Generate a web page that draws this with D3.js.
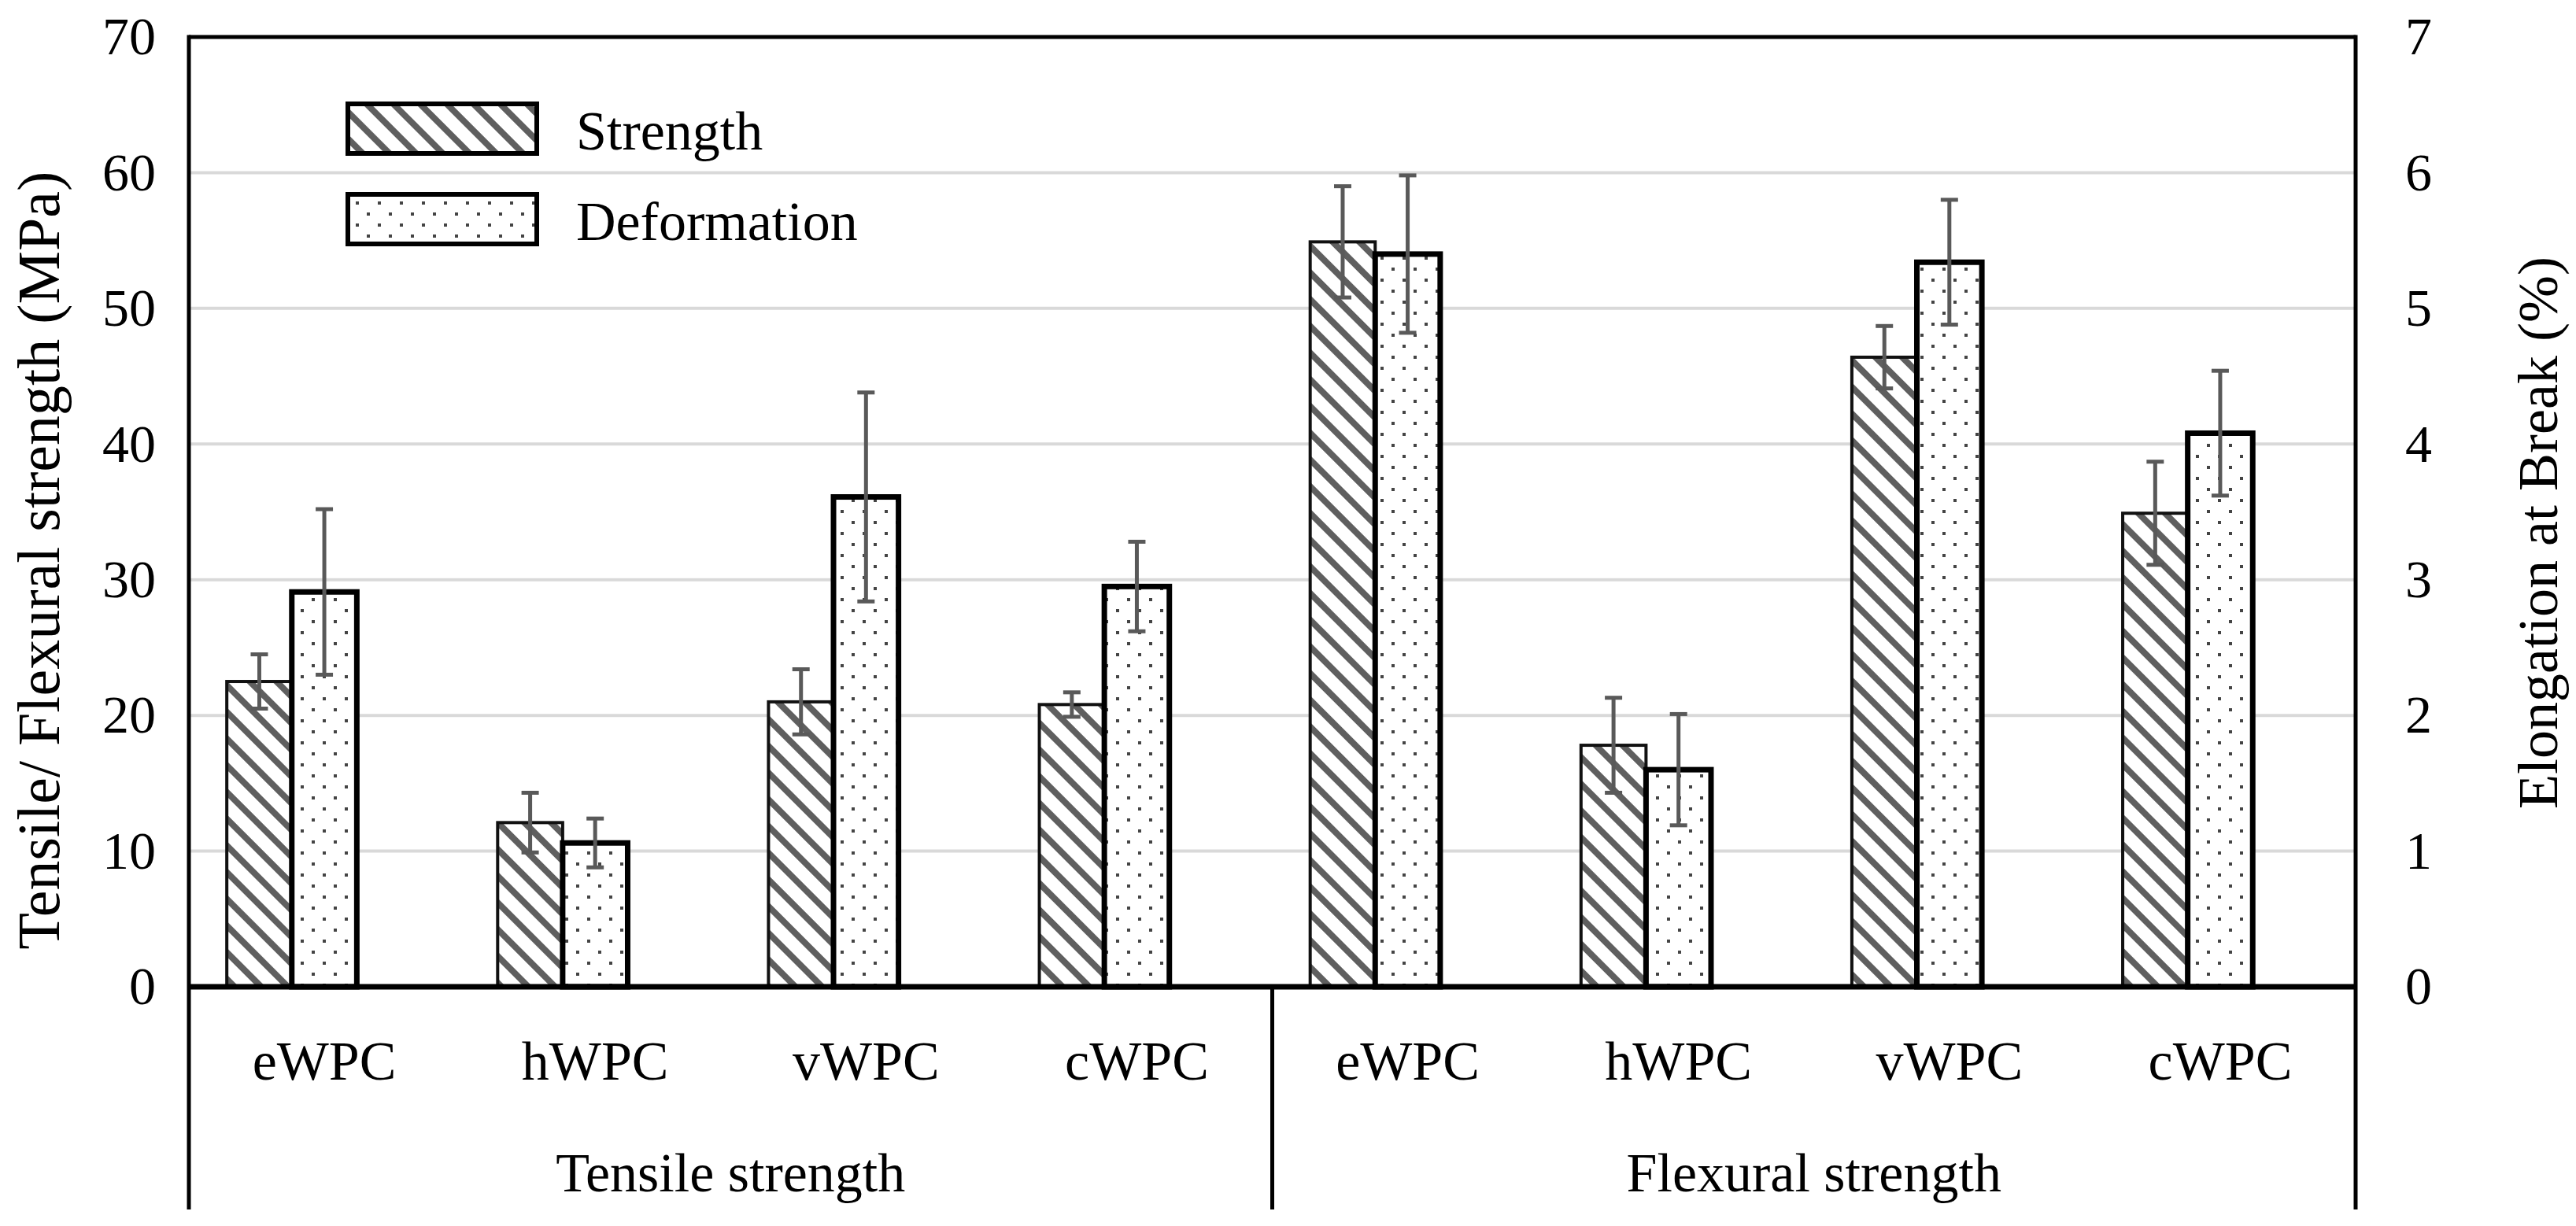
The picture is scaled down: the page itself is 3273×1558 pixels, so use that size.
<!DOCTYPE html>
<html>
<head>
<meta charset="utf-8">
<script src="https://cdn.jsdelivr.net/npm/d3@7"></script>
<style>
  body { margin: 0; background: #fff; }
  text { font-family: "Palatino Linotype", "Book Antiqua", "Liberation Serif", serif; fill: #000; }
</style>
</head>
<body>
<div id="chart"></div>
<script>
const categories = ['eWPC', 'hWPC', 'vWPC', 'cWPC', 'eWPC', 'hWPC', 'vWPC', 'cWPC'];
const groups = ['Tensile strength', 'Flexural strength'];
const seriesNames = ['Strength', 'Deformation'];

// strength in MPa (left axis), deformation = elongation at break in % (right axis)
const strength = [22.5, 12.1, 21.0, 20.8, 54.9, 17.8, 46.4, 34.9];
const strengthErr = [2.0, 2.2, 2.4, 0.9, 4.1, 3.5, 2.3, 3.8];
const deformation = [2.91, 1.06, 3.61, 2.95, 5.40, 1.60, 5.34, 4.08];
const deformationErr = [0.61, 0.18, 0.77, 0.33, 0.58, 0.41, 0.46, 0.46];

const leftTicks = [0, 10, 20, 30, 40, 50, 60, 70];
const rightTicks = [0, 1, 2, 3, 4, 5, 6, 7];

const width = 3273;
const height = 1558;
const margin = { top: 47, right: 280, bottom: 304, left: 240 };
const axisBottom = 1537;

const svg = d3.select('#chart')
  .append('svg')
  .attr('width', width)
  .attr('height', height)
  .attr('viewBox', [0, 0, width, height]);

svg.append('rect').attr('width', width).attr('height', height).attr('fill', '#fff');

// fill patterns
const defs = svg.append('defs');
const stripes = defs.append('pattern')
  .attr('id', 'stripes')
  .attr('patternUnits', 'userSpaceOnUse')
  .attr('width', 24).attr('height', 24)
  .attr('patternTransform', 'rotate(45)');
stripes.append('rect').attr('width', 24).attr('height', 24).attr('fill', '#fff');
stripes.append('rect').attr('x', 0).attr('y', 0).attr('width', 24).attr('height', 8).attr('fill', '#5f5f5f');

const dots = defs.append('pattern')
  .attr('id', 'dots')
  .attr('patternUnits', 'userSpaceOnUse')
  .attr('width', 28).attr('height', 28);
dots.append('rect').attr('width', 28).attr('height', 28).attr('fill', '#fff');
dots.append('rect').attr('x', 4).attr('y', 4).attr('width', 4).attr('height', 4).attr('fill', '#444');
dots.append('rect').attr('x', 18).attr('y', 18).attr('width', 4).attr('height', 4).attr('fill', '#444');

const x = d3.scaleBand()
  .domain(d3.range(categories.length))
  .range([margin.left, width - margin.right])
  .padding(0);

const x1 = d3.scaleBand()
  .domain(seriesNames)
  .range([x.bandwidth() * 0.14, x.bandwidth() * 0.62]);

const yLeft = d3.scaleLinear()
  .domain([0, 70])
  .range([height - margin.bottom, margin.top]);

const yRight = d3.scaleLinear()
  .domain([0, 7])
  .range([height - margin.bottom, margin.top]);

// gridlines
svg.append('g')
  .selectAll('line')
  .data(leftTicks.filter(d => d > 0 && d < 70))
  .join('line')
    .attr('x1', margin.left)
    .attr('x2', width - margin.right)
    .attr('y1', d => yLeft(d))
    .attr('y2', d => yLeft(d))
    .attr('stroke', '#d9d9d9')
    .attr('stroke-width', 4);

// strength bars (left axis)
svg.append('g')
  .selectAll('rect')
  .data(strength)
  .join('rect')
    .attr('x', (d, i) => x(i) + x1('Strength'))
    .attr('y', d => yLeft(d))
    .attr('width', x1.bandwidth())
    .attr('height', d => yLeft(0) - yLeft(d))
    .attr('fill', 'url(#stripes)')
    .attr('stroke', '#111')
    .attr('stroke-width', 4);

// deformation bars (right axis)
svg.append('g')
  .selectAll('rect')
  .data(deformation)
  .join('rect')
    .attr('x', (d, i) => x(i) + x1('Deformation'))
    .attr('y', d => yRight(d))
    .attr('width', x1.bandwidth())
    .attr('height', d => yRight(0) - yRight(d))
    .attr('fill', 'url(#dots)')
    .attr('stroke', '#000')
    .attr('stroke-width', 7);

// error bars
function errorBars(values, errs, y, series) {
  const g = svg.append('g').attr('stroke', '#595959').attr('stroke-width', 5);
  const cx = i => x(i) + x1(series) + x1.bandwidth() / 2;
  values.forEach((v, i) => {
    g.append('line').attr('x1', cx(i)).attr('x2', cx(i))
      .attr('y1', y(v - errs[i])).attr('y2', y(v + errs[i]));
    [v - errs[i], v + errs[i]].forEach(e => {
      g.append('line').attr('x1', cx(i) - 11).attr('x2', cx(i) + 11)
        .attr('y1', y(e)).attr('y2', y(e));
    });
  });
}
errorBars(strength, strengthErr, yLeft, 'Strength');
errorBars(deformation, deformationErr, yRight, 'Deformation');

// frame
const frame = svg.append('g').attr('stroke', '#000').attr('fill', 'none');
frame.append('line')
  .attr('x1', margin.left).attr('x2', width - margin.right)
  .attr('y1', margin.top).attr('y2', margin.top)
  .attr('stroke-width', 5);
frame.append('line')
  .attr('x1', margin.left).attr('x2', width - margin.right)
  .attr('y1', yLeft(0)).attr('y2', yLeft(0))
  .attr('stroke-width', 7);
[margin.left, x(4), width - margin.right].forEach((xv, i) => {
  frame.append('line')
    .attr('x1', xv).attr('x2', xv)
    .attr('y1', i === 1 ? yLeft(0) : margin.top - 2.5)
    .attr('y2', axisBottom)
    .attr('stroke-width', 5);
});

// axes
svg.append('g')
  .attr('transform', `translate(${margin.left},0)`)
  .call(d3.axisLeft(yLeft).tickValues(leftTicks).tickSize(0).tickPadding(42))
  .call(g => g.select('.domain').remove())
  .call(g => g.selectAll('text').attr('font-size', 68).attr('font-family', null));

svg.append('g')
  .attr('transform', `translate(${width - margin.right},0)`)
  .call(d3.axisRight(yRight).tickValues(rightTicks).tickFormat(d3.format('d')).tickSize(0).tickPadding(63))
  .call(g => g.select('.domain').remove())
  .call(g => g.selectAll('text').attr('font-size', 68).attr('font-family', null));

svg.append('g')
  .attr('transform', `translate(0,${yLeft(0)})`)
  .call(d3.axisBottom(x).tickFormat(i => categories[i]).tickSize(0).tickPadding(0))
  .call(g => g.select('.domain').remove())
  .call(g => g.selectAll('text').attr('font-size', 70).attr('font-family', null).attr('dy', 118));

svg.append('g')
  .selectAll('text')
  .data(groups)
  .join('text')
    .attr('x', (d, i) => (x(i * 4) + x(i * 4 + 3) + x.bandwidth()) / 2)
    .attr('y', 1514)
    .attr('text-anchor', 'middle')
    .attr('font-size', 70)
    .text(d => d);

// axis titles
svg.append('text')
  .attr('transform', 'translate(75,712) rotate(-90)')
  .attr('text-anchor', 'middle')
  .attr('font-size', 76)
  .text('Tensile/ Flexural strength (MPa)');

svg.append('text')
  .attr('transform', 'translate(3249,677) rotate(-90)')
  .attr('text-anchor', 'middle')
  .attr('font-size', 72)
  .text('Elongation at Break (%)');

// legend
const legend = svg.append('g');
seriesNames.forEach((name, i) => {
  const ly = 132 + i * 115;
  legend.append('rect')
    .attr('x', 442).attr('y', ly)
    .attr('width', 240).attr('height', 63)
    .attr('fill', i === 0 ? 'url(#stripes)' : 'url(#dots)')
    .attr('stroke', '#000').attr('stroke-width', 6);
  legend.append('text')
    .attr('x', 732).attr('y', ly + 58)
    .attr('font-size', 70)
    .text(name);
});
</script>
</body>
</html>
